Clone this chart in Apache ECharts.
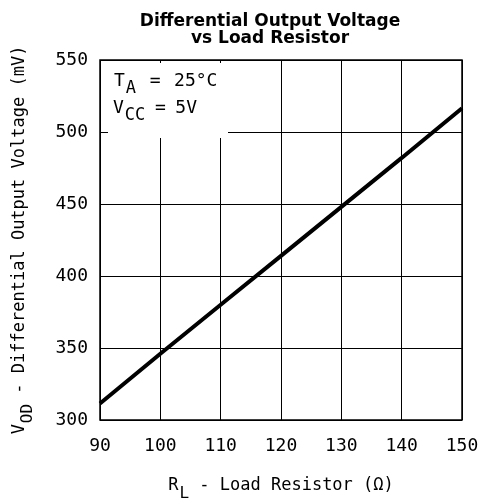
<!DOCTYPE html>
<html><head><meta charset="utf-8">
<script src="https://cdn.jsdelivr.net/npm/echarts@6/dist/echarts.min.js"></script>
<style>html,body{margin:0;padding:0;background:#fff}#c{width:479px;height:502px}</style>
</head><body><div id="c"></div>
<script>
var resistance = [90, 100, 110, 120, 130, 140, 150];
var vod = [311.5, 346, 380, 414, 448, 482, 516.5];
var xTicks = [90, 100, 110, 120, 130, 140, 150];
var yTicks = [300, 350, 400, 450, 500, 550];

var F = 'DejaVu Sans Mono';
function mkRich(fs, drop) {
  return {
    n: {fontFamily: F, fontSize: fs, color: '#000', verticalAlign: 'top'},
    s: {fontFamily: F, fontSize: fs - 1, color: '#000', verticalAlign: 'top', padding: [drop, 0, 0, 1]},
    e: {fontFamily: F, fontSize: fs, color: '#000', verticalAlign: 'top', width: 38, align: 'center'},
    e2: {fontFamily: F, fontSize: fs, color: '#000', verticalAlign: 'top', width: 30, align: 'center'}
  };
}
var chart = echarts.init(document.getElementById('c'));
chart.setOption({
  animation: false,
  backgroundColor: '#fff',
  title: {
    text: 'Differential Output Voltage\nvs Load Resistor',
    left: 265, textAlign: 'center', top: 8,
    textStyle: {fontFamily: 'DejaVu Sans', fontWeight: 'bold', fontSize: 17, lineHeight: 17, color: '#000'}
  },
  grid: {left: 100, top: 60, width: 362, height: 360, outerBoundsMode: 'none', containLabel: false,
    show: true, borderColor: '#000', borderWidth: 1.5, backgroundColor: 'transparent'},
  xAxis: {
    type: 'value', min: xTicks[0], max: xTicks[xTicks.length - 1], interval: 10,
    axisLine: {show: false}, axisTick: {show: false},
    splitLine: {show: true, lineStyle: {color: '#000', width: 1}},
    axisLabel: {margin: 17, fontFamily: F, fontSize: 18, color: '#000'},
    name: '{n|R}{s|L}{n| - Load Resistor (Ω)}', nameLocation: 'middle', nameGap: 57,
    nameTextStyle: {rich: mkRich(17, 9)}
  },
  yAxis: {
    type: 'value', min: yTicks[0], max: yTicks[yTicks.length - 1], interval: 50,
    axisLine: {show: false}, axisTick: {show: false},
    splitLine: {show: true, lineStyle: {color: '#000', width: 1}},
    axisLabel: {margin: 12, fontFamily: F, fontSize: 18, color: '#000'},
    name: '{n|V}{s|OD}{n| - Differential Output Voltage (mV)}', nameLocation: 'middle', nameGap: 64, nameRotate: 90,
    nameTextStyle: {rich: mkRich(17, 9)}
  },
  graphic: [
    {type: 'rect', z: 10, shape: {x: 108, y: 63, width: 120, height: 75}, style: {fill: '#fff'}},
    {type: 'text', z: 11, x: 114, y: 72, style: {text: '{n|T}{s|A}{e|=}{n|25°C}', rich: mkRich(18, 8)}},
    {type: 'text', z: 11, x: 113, y: 99, style: {text: '{n|V}{s|CC}{e2|=}{n|5V}', rich: mkRich(18, 8)}}
  ],
  series: [{
    type: 'line', showSymbol: false, symbol: 'none',
    data: resistance.map(function (r, i) { return [r, vod[i]]; }),
    lineStyle: {color: '#000', width: 4}
  }]
});
</script></body></html>
